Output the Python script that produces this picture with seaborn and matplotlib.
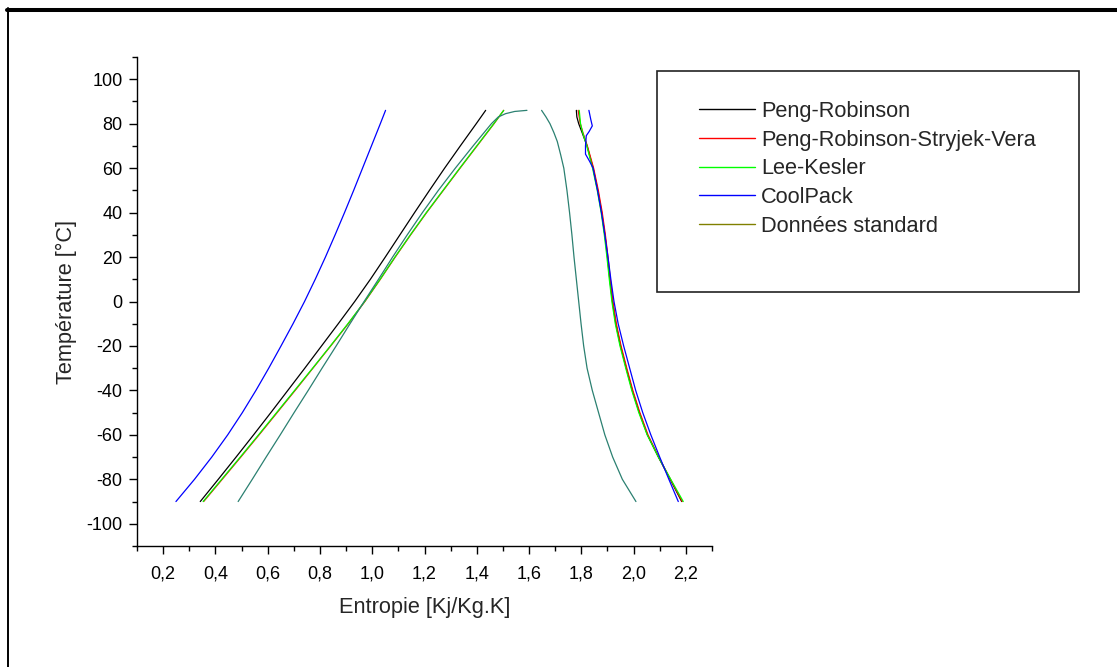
import numpy as np
import pandas as pd
import matplotlib
matplotlib.use("Agg")
import matplotlib.pyplot as plt
import seaborn as sns
from matplotlib.ticker import MultipleLocator, FuncFormatter
from matplotlib.lines import Line2D
from matplotlib.patches import Rectangle

# ---------------- data (entropy s [kJ/kg.K] vs temperature T [°C]) ----------------
models = ["Peng-Robinson", "Peng-Robinson-Stryjek-Vera", "Lee-Kesler",
          "CoolPack", "Données standard"]

# Peng-Robinson
pr_liq_T = [-90, -80, -70, -60, -50, -40, -30, -20, -10, 0, 10, 20, 30, 40, 50, 60, 70, 80, 86]
pr_liq_s = [0.342, 0.411, 0.479, 0.546, 0.612, 0.677, 0.742, 0.806, 0.870, 0.933, 0.993,
            1.050, 1.106, 1.162, 1.219, 1.277, 1.337, 1.398, 1.434]
pr_vap_T = [86, 83, 80, 76, 70, 60, 50, 40, 30, 20, 10, 0, -10, -20, -30, -40, -50, -60, -70, -80, -90]
pr_vap_s = [1.781, 1.783, 1.790, 1.803, 1.822, 1.845, 1.863, 1.878, 1.890, 1.900, 1.909, 1.919,
            1.932, 1.950, 1.972, 1.995, 2.022, 2.053, 2.095, 2.140, 2.184]

# Peng-Robinson-Stryjek-Vera
prsv_liq_T = [-90, -80, -70, -60, -50, -40, -30, -20, -10, 0, 10, 20, 30, 40, 50, 60, 70, 80, 86]
prsv_liq_s = [0.355, 0.426, 0.497, 0.567, 0.636, 0.705, 0.773, 0.841, 0.908, 0.972, 1.031,
              1.088, 1.147, 1.208, 1.272, 1.336, 1.401, 1.466, 1.503]
prsv_vap_T = [86, 80, 76, 70, 60, 50, 40, 30, 20, 10, 0, -10, -20, -30, -40, -50, -60, -70, -80, -90]
prsv_vap_s = [1.788, 1.796, 1.806, 1.823, 1.847, 1.865, 1.880, 1.892, 1.902, 1.911, 1.921,
              1.934, 1.952, 1.974, 1.997, 2.024, 2.055, 2.096, 2.141, 2.186]

# Lee-Kesler
lk_liq_T = [-90, -80, -70, -60, -50, -40, -30, -20, -10, 0, 10, 20, 30, 40, 50, 60, 70, 80, 86]
lk_liq_s = [0.353, 0.424, 0.495, 0.565, 0.634, 0.703, 0.772, 0.840, 0.907, 0.971, 1.030,
            1.087, 1.146, 1.207, 1.271, 1.335, 1.400, 1.465, 1.503]
lk_vap_T = [86, 80, 76, 70, 60, 50, 40, 30, 20, 10, 0, -10, -20, -30, -40, -50, -60, -70, -80, -90]
lk_vap_s = [1.792, 1.797, 1.805, 1.821, 1.843, 1.861, 1.876, 1.888, 1.898, 1.907, 1.917,
            1.930, 1.948, 1.970, 1.993, 2.020, 2.052, 2.095, 2.142, 2.190]

# CoolPack
cp_liq_T = [-90, -80, -70, -60, -50, -40, -30, -20, -10, 0, 10, 20, 30, 40, 50, 60, 70, 80, 86]
cp_liq_s = [0.249, 0.320, 0.386, 0.447, 0.503, 0.555, 0.604, 0.651, 0.697, 0.741, 0.782,
            0.821, 0.858, 0.894, 0.929, 0.963, 0.997, 1.031, 1.051]
cp_vap_T = [86, 82, 79, 76.5, 74.6, 70, 66.3, 63, 60, 50, 40, 30, 20, 10, 0, -10, -20, -30,
            -40, -50, -60, -70, -80, -90]
cp_vap_s = [1.829, 1.836, 1.842, 1.830, 1.819, 1.816, 1.816, 1.832, 1.845, 1.862, 1.877, 1.890,
            1.902, 1.913, 1.925, 1.941, 1.962, 1.985, 2.008, 2.035, 2.066, 2.100, 2.135, 2.171]

# Données standard
std_liq_T = [-90, -80, -70, -60, -50, -40, -30, -20, -10, 0, 10, 20, 30, 40, 50, 60, 70, 76,
             80, 83, 84.5, 85.5, 86]
std_liq_s = [0.487, 0.541, 0.594, 0.648, 0.701, 0.755, 0.808, 0.862, 0.915, 0.969, 1.024,
             1.078, 1.134, 1.192, 1.253, 1.318, 1.386, 1.428, 1.456, 1.482, 1.510, 1.545, 1.592]
std_vap_T = [86, 83, 80, 76, 72, 66, 60, 50, 40, 30, 20, 10, 0, -10, -20, -30, -40, -50, -60,
             -70, -80, -90]
std_vap_s = [1.648, 1.665, 1.680, 1.695, 1.708, 1.721, 1.733, 1.745, 1.755, 1.764, 1.772, 1.781,
             1.790, 1.799, 1.809, 1.822, 1.842, 1.866, 1.890, 1.920, 1.957, 2.009]

x_ticks_step = 0.2
y_ticks_step = 20

# ---------------- build table ----------------
branches = [
    ("Peng-Robinson", "liq", pr_liq_s, pr_liq_T), ("Peng-Robinson", "vap", pr_vap_s, pr_vap_T),
    ("Peng-Robinson-Stryjek-Vera", "liq", prsv_liq_s, prsv_liq_T),
    ("Peng-Robinson-Stryjek-Vera", "vap", prsv_vap_s, prsv_vap_T),
    ("Lee-Kesler", "liq", lk_liq_s, lk_liq_T), ("Lee-Kesler", "vap", lk_vap_s, lk_vap_T),
    ("Données standard", "liq", std_liq_s, std_liq_T), ("Données standard", "vap", std_vap_s, std_vap_T),
    ("CoolPack", "liq", cp_liq_s, cp_liq_T), ("CoolPack", "vap", cp_vap_s, cp_vap_T),
]
rows = []
for m, b, s, t in branches:
    for si, ti in zip(s, t):
        rows.append({"model": m, "branch": m + "_" + b, "s": si, "T": ti})
df = pd.DataFrame(rows)

line_colors = {"Peng-Robinson": "#000000", "Peng-Robinson-Stryjek-Vera": "#ff0000",
               "Lee-Kesler": "#00ff00", "CoolPack": "#0000ff", "Données standard": "#2b8071"}
legend_colors = {"Peng-Robinson": "#000000", "Peng-Robinson-Stryjek-Vera": "#ff0000",
                 "Lee-Kesler": "#00ff00", "CoolPack": "#0000ff", "Données standard": "#808000"}

# ---------------- style ----------------
sns.set_style("white")
plt.rcParams["font.family"] = ["Liberation Sans", "DejaVu Sans"]
plt.rcParams["axes.unicode_minus"] = False

fig = plt.figure(figsize=(11.17, 6.67), dpi=100)
ax = fig.add_axes([137 / 1117, 1 - 546 / 667, 575 / 1117, 489 / 667])

for m, b, s, t in branches:
    sub = df[df["branch"] == m + "_" + b]
    sns.lineplot(data=sub, x="s", y="T", sort=False, estimator=None,
                 color=line_colors[m], lw=0.9, ax=ax, legend=False)

ax.set_xlim(0.1, 2.3)
ax.set_ylim(-110, 110)
ax.xaxis.set_major_locator(MultipleLocator(x_ticks_step))
ax.xaxis.set_minor_locator(MultipleLocator(0.1))
ax.yaxis.set_major_locator(MultipleLocator(y_ticks_step))
ax.yaxis.set_minor_locator(MultipleLocator(10))
ax.xaxis.set_major_formatter(FuncFormatter(lambda v, p: f"{v:.1f}".replace(".", ",")))
ax.yaxis.set_major_formatter(FuncFormatter(lambda v, p: f"{int(round(v))}"))

for sp in ["top", "right"]:
    ax.spines[sp].set_visible(False)
for sp in ["left", "bottom"]:
    ax.spines[sp].set_color("black")
    ax.spines[sp].set_linewidth(1.0)

ax.tick_params(axis="both", which="both", bottom=True, left=True, top=False, right=False)
ax.tick_params(axis="both", which="major", direction="out", length=5.8, width=1.0,
               color="black", labelsize=13, labelcolor="black")
ax.tick_params(axis="both", which="minor", direction="out", length=3.6, width=1.0, color="black")
ax.tick_params(axis="x", which="major", pad=8)
ax.tick_params(axis="y", which="major", pad=4.5)

ax.set_xlabel("Entropie [Kj/Kg.K]", fontsize=15.7)
ax.set_ylabel("Température [°C]", fontsize=15.7)
ax.xaxis.set_label_coords(0.5, -0.105)
ax.yaxis.set_label_coords(-0.105, 0.5)

# legend
handles = [Line2D([0], [0], color=legend_colors[m], lw=1.0) for m in models]
leg = ax.legend(handles, models, loc="upper left",
                bbox_to_anchor=(699 / 1117, 1 - 101 / 667), bbox_transform=fig.transFigure,
                frameon=False, borderpad=0, borderaxespad=0, handlelength=2.57,
                handletextpad=0.28, labelspacing=0.35, fontsize=15.7)

fig.add_artist(Rectangle((657 / 1117, 1 - 292 / 667), 422 / 1117, 221 / 667,
                         transform=fig.transFigure, fill=False, edgecolor="#222222", lw=1.2))

# outer frame (top and left)
fig.add_artist(Line2D([7 / 1117, 1.0], [1 - 10 / 667, 1 - 10 / 667],
                      transform=fig.transFigure, color="black", lw=2.9))
fig.add_artist(Line2D([7.8 / 1117, 7.8 / 1117], [0, 1 - 8 / 667],
                      transform=fig.transFigure, color="black", lw=1.4))

fig.savefig("out.png", dpi=100)
